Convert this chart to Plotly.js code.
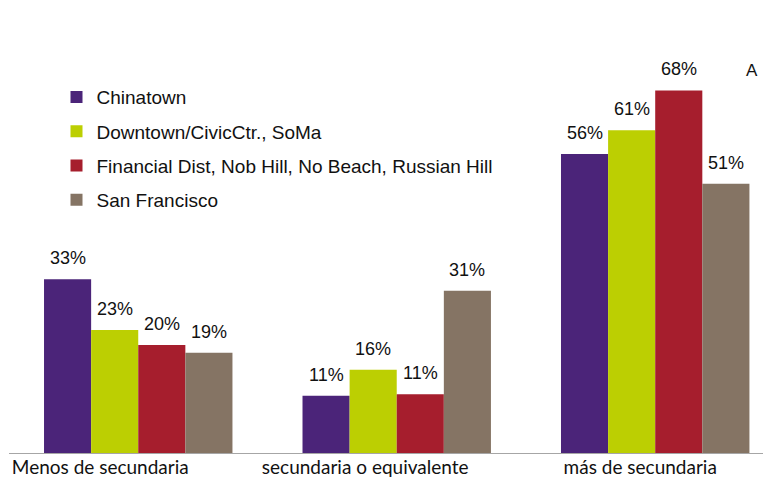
<!DOCTYPE html>
<html>
<head>
<meta charset="utf-8">
<script src="https://cdn.plot.ly/plotly-3.0.1.min.js"></script>
<style>html,body{margin:0;padding:0;background:#fff;}#chart{width:763px;height:479px;}</style>
</head>
<body>
<div id="chart"></div>
<script>
// Categories (x axis)
var categories = ["Menos de secundaria", "secundaria o equivalente", "más de secundaria"];
// Series names
var seriesNames = ["Chinatown", "Downtown/CivicCtr., SoMa", "Financial Dist, Nob Hill, No Beach, Russian Hill", "San Francisco"];
// Series values (%)
var chinatown = [32.8, 10.8, 56.4];
var downtown = [23.2, 15.7, 60.9];
var financial = [20.4, 11.1, 68.4];
var sanFrancisco = [18.9, 30.6, 50.8];
var seriesValues = [chinatown, downtown, financial, sanFrancisco];
var colors = ["#4B2479", "#BCCF02", "#A61E2D", "#857464"];

var catIdx = categories.map(function(_, i){ return i; });
var bargap = 0.271;
var nSeries = seriesValues.length;
var barW = (1 - bargap) / nSeries;

var traces = seriesValues.map(function(vals, s){
  return {
    type: "bar",
    name: seriesNames[s],
    legendgroup: "g" + s,
    x: catIdx,
    y: vals,
    marker: {color: colors[s], line: {width: 0}},
    hoverinfo: "y"
  };
});

var annotations = [];
seriesValues.forEach(function(vals, s){
  vals.forEach(function(v, c){
    annotations.push({
      xref: "x", yref: "y",
      x: c + (s - (nSeries - 1) / 2) * barW,
      y: v,
      text: Math.round(v) + "%",
      showarrow: false,
      xanchor: "center", yanchor: "bottom",
      yshift: 9,
      font: {family: "Liberation Sans, Arial, sans-serif", size: 18, color: "#111"}
    });
  });
});
// partially visible text at right edge (cropped in the original)
annotations.push({
  xref: "paper", yref: "paper", x: 0.975, y: 0.903,
  xanchor: "left", yanchor: "middle", text: "A", showarrow: false,
  font: {family: "Liberation Sans, Arial, sans-serif", size: 17, color: "#111"}
});

var layout = {
  width: 763, height: 479,
  margin: {l: 9, r: 0, t: 29, b: 26},
  paper_bgcolor: "#ffffff",
  plot_bgcolor: "#ffffff",
  barmode: "group",
  bargap: bargap,
  bargroupgap: 0,
  showlegend: true,
  legend: {
    x: 0.063, xanchor: "left",
    y: 0.884, yanchor: "top",
    font: {family: "Liberation Sans, Arial, sans-serif", size: 19, color: "#111"},
    tracegroupgap: 6.5,
    itemwidth: 30,
    bgcolor: "rgba(0,0,0,0)",
    traceorder: "grouped"
  },
  xaxis: {
    type: "linear",
    range: [-0.5, 2.417],
    tickmode: "array",
    tickvals: [-0.147, 0.878, 1.942],
    ticktext: categories,
    ticks: "",
    ticklabelstandoff: -3,
    showline: true,
    linecolor: "#a6a6a6",
    linewidth: 1,
    showgrid: false,
    zeroline: false,
    tickfont: {family: "Lato, Carlito, sans-serif", size: 19, color: "#111"}
  },
  yaxis: {
    range: [0, 80],
    showgrid: false,
    zeroline: false,
    showline: false,
    showticklabels: false,
    ticks: ""
  },
  annotations: annotations
};

Plotly.newPlot("chart", traces, layout, {displayModeBar: false, staticPlot: true});
</script>
</body>
</html>
